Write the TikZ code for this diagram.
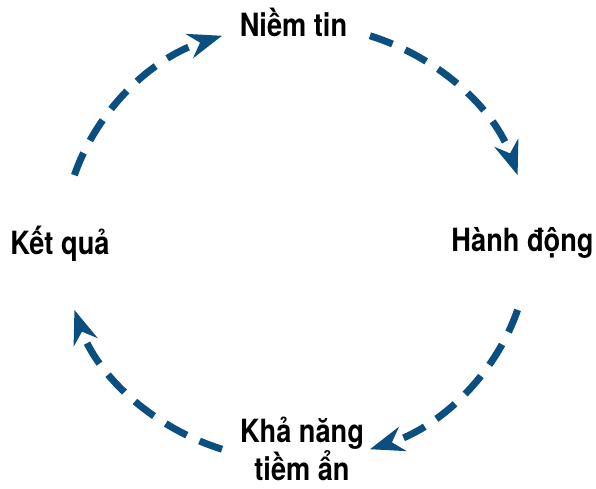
\documentclass[tikz,border=0pt]{standalone}
\usepackage{fontspec}
\setmainfont{TeX Gyre Heros}[FakeStretch=0.85]
\usetikzlibrary{arrows.meta}
\definecolor{cycleblue}{RGB}{11,79,128}

\tikzset{
	stage/.style={font=\bfseries\fontsize{32}{31}\selectfont, inner sep=0pt, align=center},
	flow/.style={cycleblue, line width=7pt, dash pattern=on 24pt off 14pt,
		-{Stealth[length=34pt, width=25pt, inset=11pt]}}
}

\begin{document}
\begin{tikzpicture}[x=1pt, y=-1pt]
	\useasboundingbox (0, 0) rectangle (596, 489);
	\pgfmathsetmacro\rx{233}
	\pgfmathsetmacro\ry{218}
	\coordinate (C) at (296, 242.5);
	% stages
	\node[stage, anchor=base] (belief) at (293.5, 37) {Niềm tin};
	\node[stage, anchor=base] (action) at (522.5, 251) {Hành động};
	\node[stage, anchor=base] (result) at (60, 254) {Kết quả};
	\node[stage, anchor=south] (potential) at (302, 481) {Khả năng\\tiềm ẩn};
	% cycle arcs
	\foreach \a/\b in {162/108.5, 71.5/18, -18/-71.5, -108.5/-162}{
		\draw[flow] ([shift={(\a:\rx pt and \ry pt)}]C)
			arc[start angle=\a, end angle=\b, x radius=\rx pt, y radius=\ry pt];
	}
\end{tikzpicture}
\end{document}
